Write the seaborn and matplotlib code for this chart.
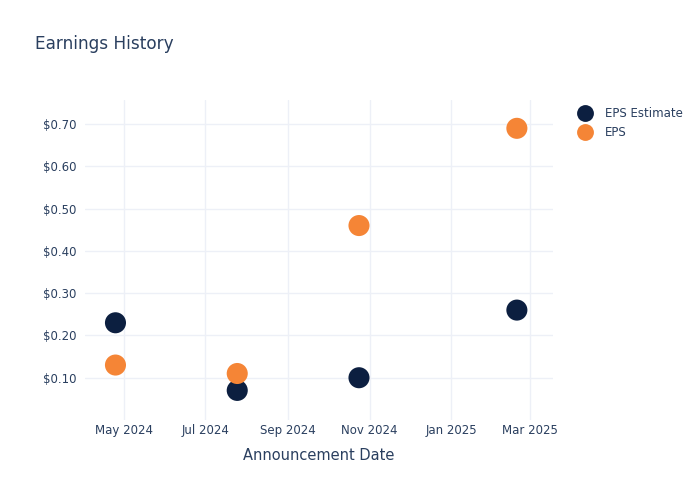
import seaborn as sns
import pandas as pd
import numpy as np
import matplotlib.pyplot as plt
import matplotlib.dates as mdates
import matplotlib.ticker as mticker

dates = ["2024-04-25", "2024-07-25", "2024-10-24", "2025-02-19"]
eps_estimate = [0.23, 0.07, 0.10, 0.26]
eps_actual = [0.13, 0.11, 0.46, 0.69]

df = pd.DataFrame({
    "date": pd.to_datetime(dates * 2),
    "value": eps_estimate + eps_actual,
    "series": ["EPS Estimate"] * 4 + ["EPS"] * 4,
})

sns.set_theme(style="white")
plt.rcParams['font.family'] = ['DejaVu Sans']
text_color = "#2a3f5f"
grid_color = "#edf0f7"

fig = plt.figure(figsize=(7, 5), dpi=100)
ax = fig.add_axes([0.121, 0.16, 0.669, 0.64])

sns.scatterplot(data=df, x="date", y="value", hue="series",
                palette={"EPS Estimate": "#0c1f40", "EPS": "#f58536"},
                s=230, edgecolor="none", ax=ax, zorder=3, clip_on=False)

ax.set_xlim(pd.Timestamp("2024-04-02"), pd.Timestamp("2025-03-18"))
ax.set_ylim(0.0, 0.757)
ax.xaxis.set_major_locator(mdates.MonthLocator(bymonth=[1, 3, 5, 7, 9, 11]))
ax.xaxis.set_major_formatter(mdates.DateFormatter("%b %Y"))
ax.yaxis.set_major_locator(mticker.FixedLocator([0.1, 0.2, 0.3, 0.4, 0.5, 0.6, 0.7]))
ax.yaxis.set_major_formatter(mticker.FuncFormatter(lambda v, p: f"${v:.2f}"))

ax.grid(True, color=grid_color, linewidth=1)
for s in ax.spines.values():
    s.set_visible(False)
ax.tick_params(axis="both", length=0, labelsize=8.5, colors=text_color)
ax.tick_params(axis="x", pad=3)
ax.tick_params(axis="y", pad=6)

ax.set_xlabel("Announcement Date", fontsize=10.5, color=text_color, labelpad=8)
ax.set_ylabel("")
fig.text(0.05, 0.912, "Earnings History", fontsize=12.2, color=text_color, va="center")

leg = ax.legend(loc="upper left", bbox_to_anchor=(1.02, 1.01), frameon=False,
                fontsize=8.5, handletextpad=0.7, labelspacing=0.45, markerscale=0.8)
for t in leg.get_texts():
    t.set_color(text_color)

plt.savefig("out.png", dpi=100)
